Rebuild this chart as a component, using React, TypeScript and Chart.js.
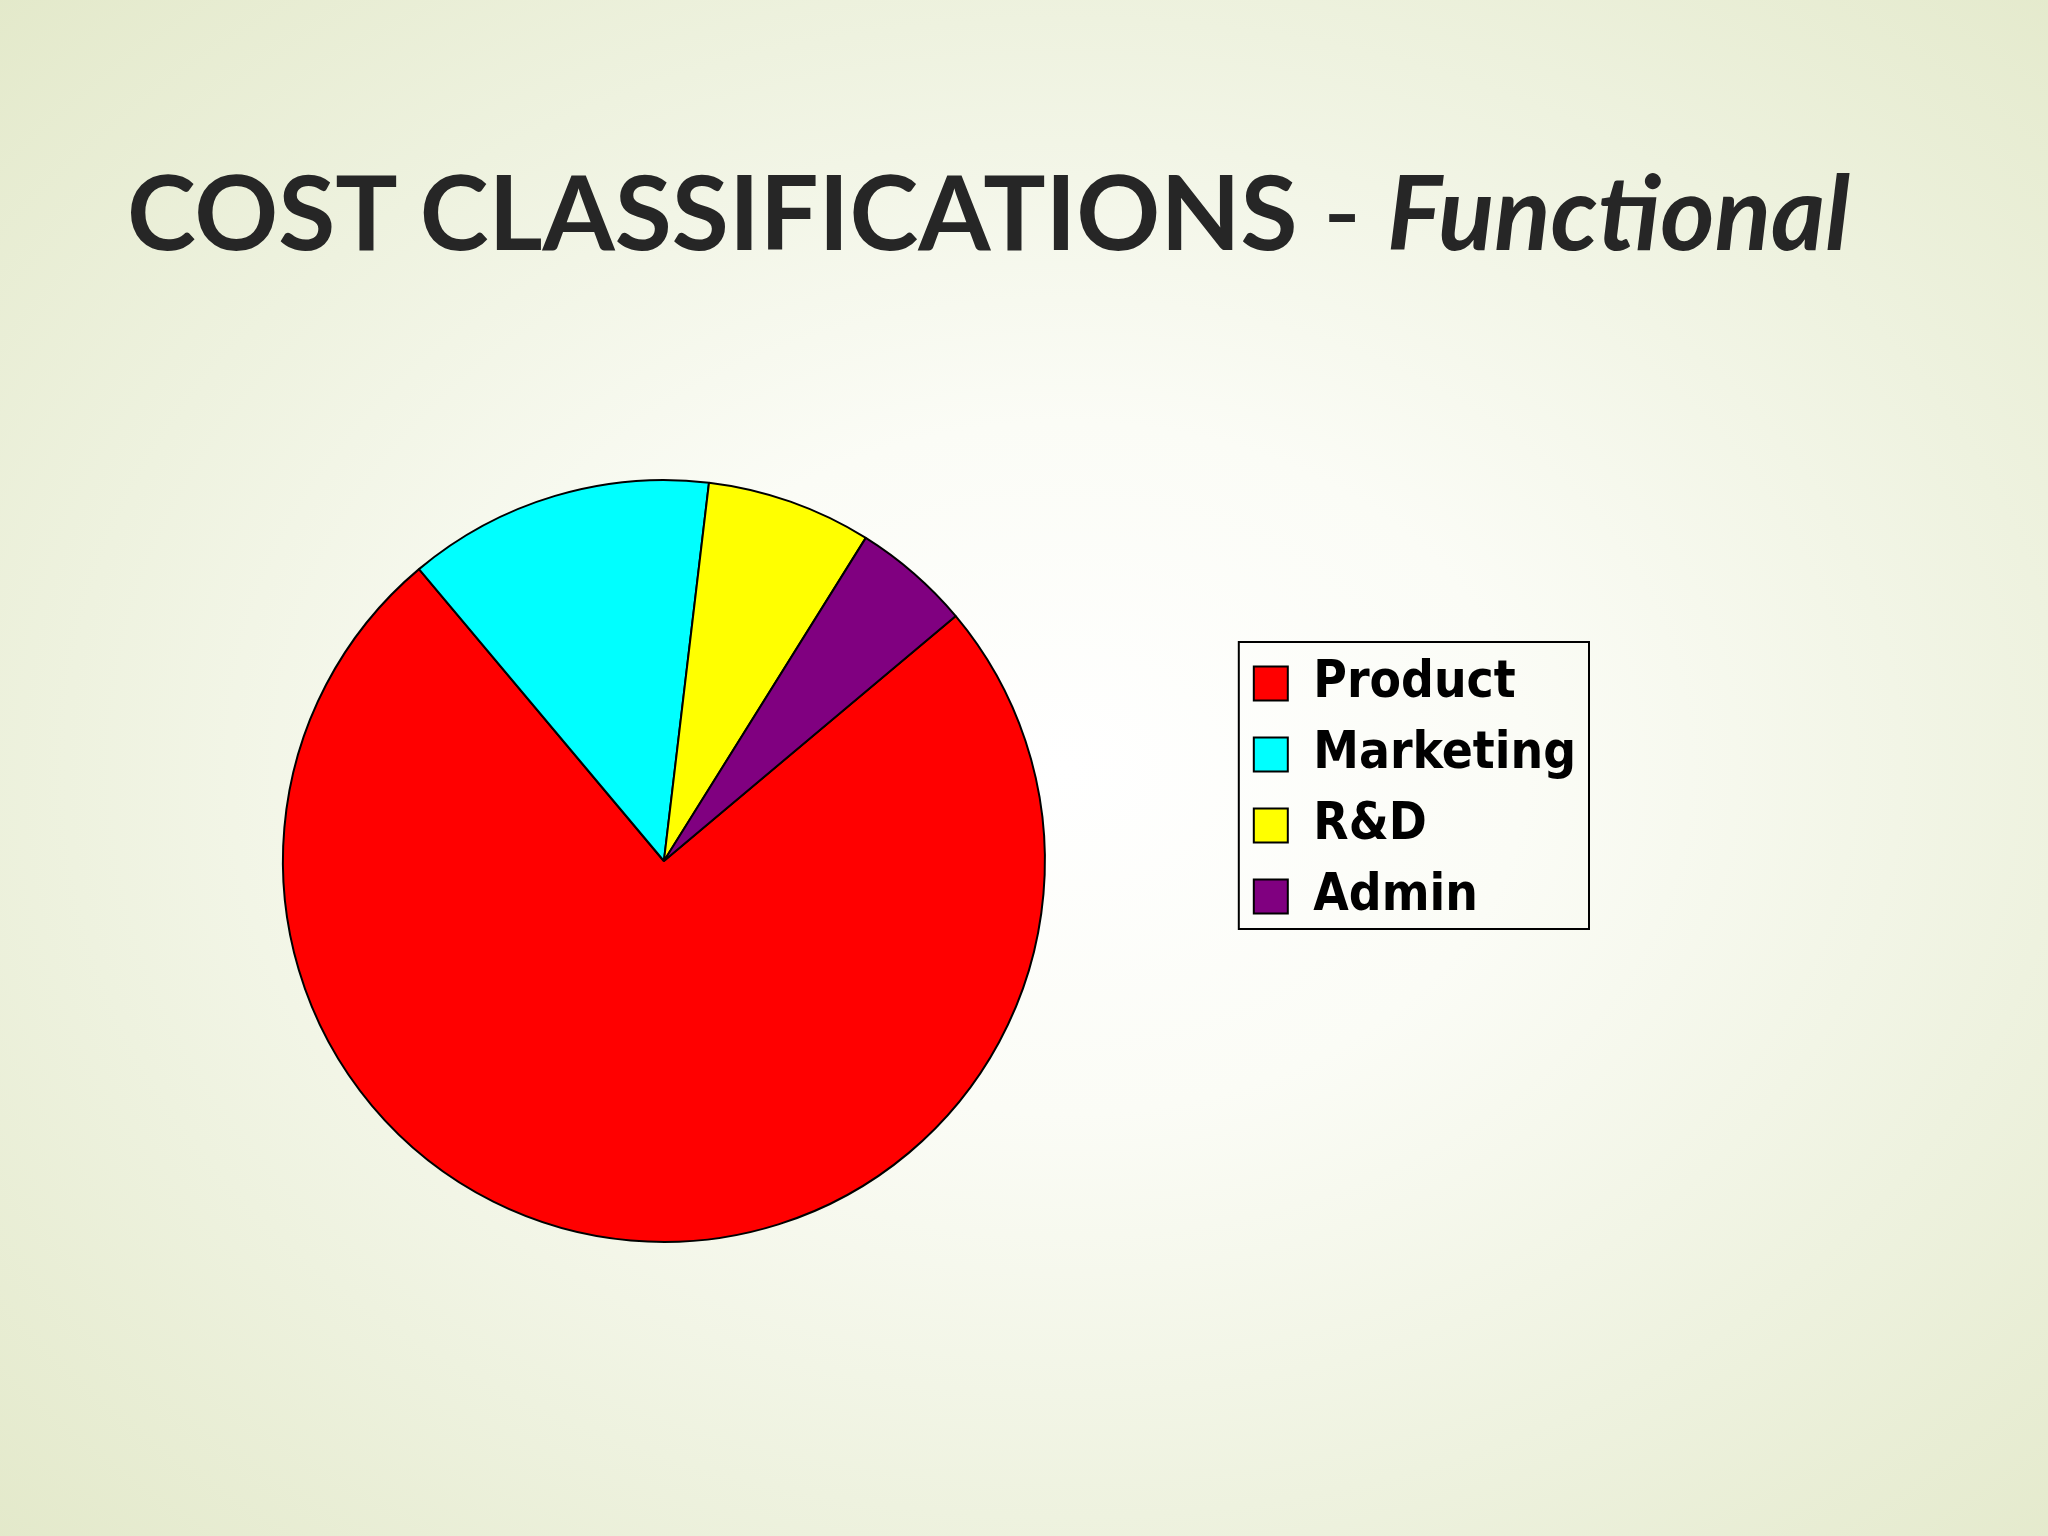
import { useEffect, useRef } from 'react';
import { Chart, registerables } from 'chart.js';

Chart.register(...registerables);

const categories = ['Product', 'Marketing', 'R&D', 'Admin'];
const shares = [75, 13, 7, 5];
const sliceColors = ['#ff0000', '#00ffff', '#ffff00', '#800080'];

// draws the thin black frame around the legend items
const legendFrame = {
  id: 'legendFrame',
  afterDraw(chart: any) {
    const boxes = chart.legend?.legendHitBoxes;
    if (!boxes || !boxes.length) return;
    const left = Math.min(...boxes.map((b: any) => b.left));
    const right = Math.max(...boxes.map((b: any) => b.left + b.width));
    const top = boxes[0].top;
    const last = boxes[boxes.length - 1];
    const bottom = last.top + last.height;
    const ctx = chart.ctx;
    ctx.save();
    ctx.strokeStyle = '#000';
    ctx.lineWidth = 2;
    ctx.strokeRect(left - 15, top - 16, right - left + 28, bottom - top + 23);
    ctx.restore();
  },
};

const PieChart = () => {
  const canvasRef = useRef<HTMLCanvasElement>(null);

  useEffect(() => {
    if (!canvasRef.current) return;
    const chart = new Chart(canvasRef.current, {
      type: 'pie',
      data: {
        labels: categories,
        datasets: [
          {
            data: shares,
            backgroundColor: sliceColors,
            borderColor: '#000',
            borderWidth: 2,
          },
        ],
      },
      options: {
        responsive: true,
        maintainAspectRatio: false,
        animation: false,
        rotation: 50,
        layout: { padding: { left: 94, top: 479, bottom: 293, right: 462 } },
        plugins: {
          tooltip: { enabled: false },
          legend: {
            position: 'right',
            align: 'start',
            title: { display: true, text: ' ', font: { size: 10 }, padding: { top: 0, bottom: 147 } },
            labels: {
              color: '#000',
              boxWidth: 34,
              boxHeight: 34,
              padding: 20,
              font: { family: '"DejaVu Sans Condensed", "DejaVu Sans", sans-serif', weight: 'bold', size: 51 },
            },
          },
        },
      },
      plugins: [legendFrame],
    });
    return () => chart.destroy();
  }, []);

  return <canvas ref={canvasRef}></canvas>;
};

export default function App() {
  return (
    <div
      style={{
        position: 'fixed',
        left: 0,
        top: 0,
        width: 2048,
        height: 1536,
        overflow: 'hidden',
        background:
          'radial-gradient(ellipse 75% 75% at 52% 50%, #ffffff 0%, #fbfcf6 30%, #eef2df 65%, #e2e8c8 100%)',
      }}
    >
      <div
        style={{
          position: 'absolute',
          left: 127,
          top: 158,
          fontFamily: 'Lato, "Open Sans", sans-serif',
          fontWeight: 700,
          fontSize: 104,
          lineHeight: 1,
          color: '#262626',
          whiteSpace: 'nowrap',
        }}
      >
        COST CLASSIFICATIONS <span style={{ fontWeight: 400 }}>-</span> <i>Functional</i>
      </div>
      <div style={{ position: 'absolute', left: 0, top: 0, width: 2048, height: 1536 }}>
        <PieChart />
      </div>
    </div>
  );
}
